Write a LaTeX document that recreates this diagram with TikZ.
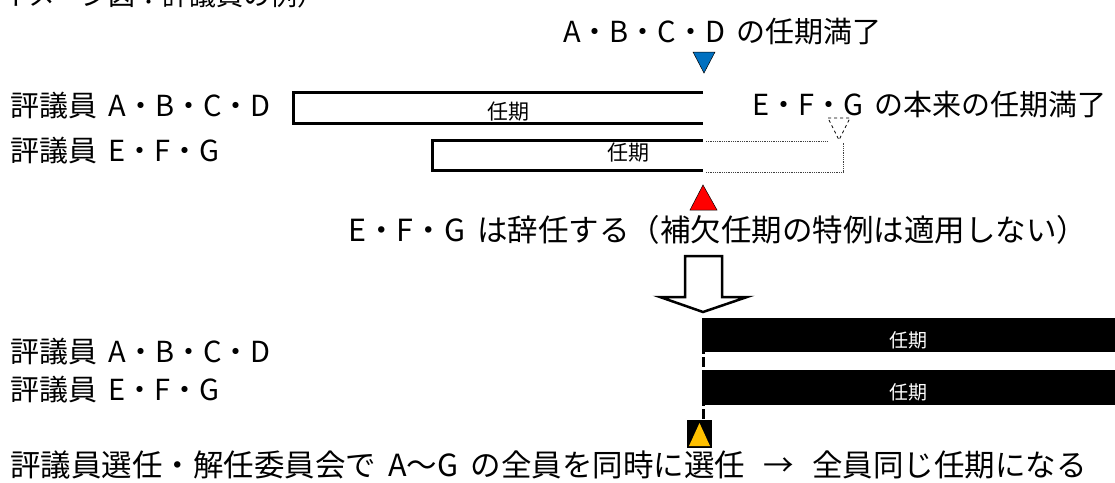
\documentclass[tikz,border=0pt]{standalone}
\usepackage{fontspec}
\setmainfont{Noto Sans CJK JP}
\definecolor{markblue}{HTML}{0070C0}
\definecolor{markorange}{HTML}{FFC000}
\definecolor{markred}{HTML}{FF0000}
\tikzset{
  lbl/.style={font=\fontsize{29}{34}\selectfont, anchor=west, inner sep=0pt},
  widelbl/.style={font=\fontsize{30.5}{35}\selectfont, anchor=west, inner sep=0pt},
  termtxt/.style={font=\fontsize{21}{24}\selectfont, inner sep=0pt},
  termtxtw/.style={font=\fontsize{19}{22}\selectfont, inner sep=0pt, text=white},
  openbox/.style={line width=3pt},
  ghost/.style={draw=black!75, line width=0.8pt, densely dotted},
  marker/.style={draw=black, line width=0.5pt},
}
\begin{document}
\begin{tikzpicture}[x=1pt,y=-1pt]
\useasboundingbox (0,0) rectangle (1115,482);
\begin{scope}
\clip (0,0) rectangle (1115,482);
\node[font=\fontsize{27}{30}\selectfont, inner sep=0pt, anchor=base west] (title) at (-26,5) {（イメージ図：評議員の例）};
\end{scope}

% top marker
\node[lbl] (endabcd) at (563,32) {A・B・C・D\hspace{.4em}の任期満了};
\draw[marker, fill=markblue] (693,52) -- (715,52) -- (704,73) -- cycle;

% row labels (upper)
\node[lbl] (rowA) at (10,106) {評議員\hspace{.4em}A・B・C・D};
\node[lbl] (rowE) at (10,151) {評議員\hspace{.4em}E・F・G};

% term boxes
\draw[openbox] (703,92) -- (293,92) -- (293,123) -- (703,123);
\node[termtxt] (termA) at (508,112) {任期};
\draw[openbox] (703,140) -- (432,140) -- (432,170) -- (703,170);
\node[termtxt] (termE) at (628,153) {任期};

% ghost extension
\draw[ghost] (706,141) -- (827,141);
\draw[ghost] (706,172) -- (843,172) -- (843,142);
\draw[draw=black, line width=0.8pt, dashed, fill=white] (828,118) -- (850,118) -- (839,140) -- cycle;
\node[lbl] (endefg) at (752,105) {E・F・G\hspace{.4em}の本来の任期満了};

% resign marker
\draw[marker, fill=markred] (703,185) -- (717,210) -- (690,210) -- cycle;
\node[widelbl] (resign) at (348,230) {E・F・G\hspace{.4em}は辞任する（補欠任期の特例は適用しない）};

% big arrow
\draw[line width=2.5pt, fill=white, line join=miter] (685,256) -- (722,256) -- (722,297) -- (747,297) -- (703,312) -- (660,297) -- (685,297) -- cycle;

% lower rows
\node[lbl] (rowA2) at (10,352) {評議員\hspace{.4em}A・B・C・D};
\node[lbl] (rowE2) at (10,390) {評議員\hspace{.4em}E・F・G};
\fill (702,318) rectangle (1115,352);
\fill (702,370) rectangle (1115,405);
\node[termtxtw] (termA2) at (908,340) {任期};
\node[termtxtw] (termE2) at (908,392) {任期};
\draw[line width=3pt, dash pattern=on 10pt off 3pt] (703,318) -- (703,420);

% orange marker
\fill (687,420) rectangle (712,448);
\fill[markorange] (699.5,423) -- (710,446) -- (689,446) -- cycle;

% bottom statement
\node[widelbl] (stmt) at (10,465) {評議員選任・解任委員会で\hspace{.4em}A〜G\hspace{.4em}の全員を同時に選任\hspace{.6em}→\hspace{.6em}全員同じ任期になる};
\end{tikzpicture}
\end{document}
